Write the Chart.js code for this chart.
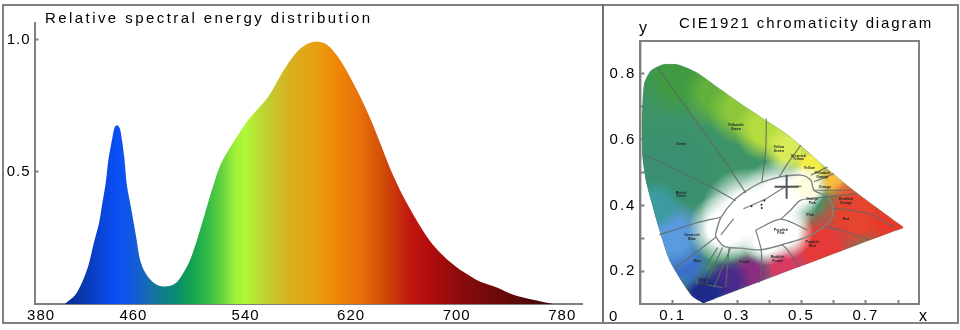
<!DOCTYPE html>
<html>
<head>
<meta charset="utf-8">
<style>
  html, body { margin: 0; background: #fff; }
  body { position: relative; width: 960px; height: 330px; overflow: hidden; font-family: "Liberation Sans", Arial, sans-serif; color: #000; }
  #frame { position: absolute; left: 2px; top: 4px; width: 953px; height: 316px; border: 2px solid #808080; }
  #divider { position: absolute; left: 602px; top: 4px; width: 2px; height: 318px; background: #707070; }
  canvas { position: absolute; top: 0; }
  #specChart { left: 0; }
  #cieChart { left: 604px; }
  .txt { position: absolute; white-space: nowrap; line-height: 1; }
</style>
<script src="https://cdn.jsdelivr.net/npm/chart.js@4"></script>
</head>
<body>
<div id="frame"></div>
<div id="divider"></div>
<canvas id="specChart" width="603" height="330"></canvas>
<canvas id="cieChart" width="356" height="330"></canvas>
<div class="txt" style="left:45px;top:10px;font-size:15px;letter-spacing:2.43px">Relative spectral energy distribution</div>
<div class="txt" style="left:679px;top:15px;font-size:15px;letter-spacing:1.9px">CIE1921 chromaticity diagram</div>
<div class="txt" style="left:639px;top:20px;font-size:16px">y</div>
<div class="txt" style="left:919px;top:308px;font-size:16px">x</div>
<div class="txt" style="left:609px;top:308px;font-size:15px">0</div>
<script>
// spectrum
const wavelengths = [403, 411, 416, 421, 425, 429, 431, 434, 436, 439, 441, 443, 445, 448, 450, 453, 457, 460, 464, 469, 474, 481, 487, 492, 498, 504, 510, 515, 521, 531, 542, 557, 569, 579, 587, 594, 602, 610, 617, 627, 635, 642, 650, 657, 665, 674, 682, 693, 705, 718, 731, 743, 758, 773];
const energy = [0, .035, .081, .149, .232, .308, .369, .459, .546, .629, .672, .677, .66, .558, .451, .369, .256, .168, .118, .086, .07, .067, .079, .111, .168, .256, .357, .44, .527, .614, .697, .784, .886, .955, .985, .994, .981, .936, .879, .784, .697, .61, .508, .432, .357, .281, .224, .168, .122, .084, .062, .035, .016, 0];
const specXTicks = [385, 455, 540, 620, 700, 780];
const specXLabels = ["380", "460", "540", "620", "700", "780"];
const specYTicks = [0.5, 1.0];

const specStopNm = [404, 419, 434, 443, 453, 464, 475, 487, 498, 510, 521, 532, 540, 555, 574, 593, 608, 627, 646, 665, 680, 703, 733, 775];
const specStopColor = ["#0a2a8c", "#0a3ab4", "#0a48e0", "#0a50f8", "#1058e0", "#1668b8", "#107a90", "#0a8a70", "#12a050", "#30b848", "#60d040", "#a0f038", "#b0f838", "#c0d030", "#d8b020", "#e8a010", "#f08808", "#e87008", "#d04808", "#c01810", "#b00c0c", "#8a0c0c", "#6a0a0a", "#3a0606"];

// chromaticity diagram
const locusX = [.195, .162, .131, .09, .059, .033, .017, .007, .005, .012, .033, .069, .116, .173, .245, .319, .39, .452, .496, .579, .661, .79, .816, .79, .5, .225, .195];
const locusY = [.103, .123, .165, .234, .325, .416, .477, .547, .668, .77, .81, .828, .828, .805, .755, .704, .658, .618, .583, .512, .446, .352, .333, .323, .216, .114, .103];
const ellipseX = [.234, .249, .291, .332, .374, .436, .498, .529, .539, .581, .596, .596, .57, .519, .456, .374, .312, .26, .234, .234];
const ellipseY = [.315, .361, .416, .446, .469, .487, .492, .477, .446, .426, .396, .366, .335, .305, .285, .265, .27, .275, .305, .315];
const spokes = [
  [[.053, .82], [.156, .679], [.26, .537], [.327, .438]],
  [[.006, .558], [.105, .512], [.218, .457], [.296, .414]],
  [[.058, .31], [.167, .345], [.249, .364]],
  [[.105, .209], [.177, .26], [.234, .303]],
  [[.391, .664], [.389, .568], [.377, .469]],
  [[.498, .583], [.457, .527], [.431, .487]],
  [[.581, .517], [.529, .492]],
  [[.601, .497], [.539, .472]],
  [[.658, .446], [.539, .446]],
  [[.674, .436], [.581, .426]],
  [[.788, .335], [.705, .376], [.601, .391]],
  [[.71, .295], [.622, .325], [.57, .335]],
  [[.493, .214], [.456, .265], [.441, .28]],
  [[.358, .325], [.436, .358], [.519, .325]],
  [[.436, .358], [.467, .386], [.498, .416], [.581, .426]],
  [[.358, .325], [.375, .265], [.375, .2], [.369, .165]],
  [[.172, .165], [.24, .272]],
  [[.203, .16], [.255, .272]],
  [[.228, .15], [.28, .27]],
  [[.265, .15], [.275, .27]],
  [[.172, .165], [.255, .15]],
  [[.25, .31], [.29, .36]],
  [[.32, .39], [.39, .42], [.45, .455], [.5, .458]],
];
const blobX = [.12, .09, .24, .32, .39, .46, .53, .6, .65, .67, .78, .56, .45, .34, .27, .2, .14, .1, .05, .26, .33, .43, .5, .45, .39, .52];
const blobY = [.8, .5, .74, .69, .63, .57, .52, .475, .43, .37, .34, .27, .21, .19, .17, .13, .22, .31, .4, .33, .375, .42, .45, .32, .29, .46];
const blobR = [45, 60, 36, 36, 32, 26, 20, 18, 15, 40, 30, 40, 28, 24, 24, 26, 26, 36, 26, 36, 46, 40, 24, 28, 24, 20];
const blobColor = ["#3f9a42", "#3a8f70", "#62b03c", "#8cc83a", "#b5dc3e", "#d8ec58", "#f2ee48", "#f4c040", "#f08a3a", "#e5452f", "#e73a2a", "#e63a38", "#d83a64", "#8a2c80", "#4a2a8a", "#1e2a8a", "#3a70c8", "#5a9ade", "#3a9ba0", "#ffffff", "#ffffff", "#ffffff", "#ffffff", "#ffffff", "#ffffff", "#fffde0"];
const markX = [.454];
const markY = [.457];
const dotX = [.345, .385, .377, .376];
const dotY = [.397, .415, .392, .402];
const cieXTicks = [.1, .2, .3, .4, .5, .6, .7, .8];
const cieYTicks = [.2, .3, .4, .5, .6, .7, .8];
const regionNames = ["Yellowish Green", "Green", "Bluish Green", "Greenish Blue", "Blue", "Yellow Green", "Greenish Yellow", "Yellow", "Yellowish Orange", "Orange", "Reddish Orange", "Red", "Purplish Red", "Reddish Purple", "Purple", "Bluish Purple", "Orange Pink", "Pink", "Purplish Pink"];
const regionX = [.296, .126, .126, .16, .177, .43, .49, .524, .565, .573, .638, .638, .534, .426, .324, .197, .534, .527, .436];
const regionY = [.638, .587, .433, .303, .232, .571, .545, .515, .493, .457, .413, .357, .283, .236, .228, .166, .413, .37, .32];

const GRAY = "#808080";
const LABEL_FONT = { family: "'Liberation Sans', Arial, sans-serif", size: 15 };

Chart.defaults.animation = false;
Chart.defaults.events = [];

const spacing = px => ({
  id: "spacing",
  beforeDraw(chart) { chart.ctx.letterSpacing = px; },
});

function specGradient(c) {
  const s = c.chart.scales.x;
  if (!s || !c.chart.chartArea) return "#888";
  const a = s.getPixelForValue(specStopNm[0]);
  const b = s.getPixelForValue(specStopNm[specStopNm.length - 1]);
  const g = c.chart.ctx.createLinearGradient(a, 0, b, 0);
  specStopNm.forEach((nm, i) => g.addColorStop((nm - specStopNm[0]) / (specStopNm[specStopNm.length - 1] - specStopNm[0]), specStopColor[i]));
  return g;
}

new Chart(document.getElementById("specChart"), {
  type: "scatter",
  data: { datasets: [{
    data: wavelengths.map((x, i) => ({ x, y: energy[i] })),
    showLine: true,
    tension: 0.3,
    fill: "origin",
    backgroundColor: specGradient,
    borderWidth: 0,
    pointRadius: 0,
  }]},
  options: {
    responsive: false,
    layout: { padding: { top: 23, right: 21 }, autoPadding: false },
    plugins: { legend: { display: false }, tooltip: { enabled: false } },
    scales: {
      x: {
        type: "linear", min: 380, max: 795,
        afterBuildTicks: s => { s.ticks = specXTicks.map(value => ({ value })); },
        afterFit: s => { s.height = 26; },
        ticks: { autoSkip: false, maxRotation: 0, color: "#000", font: LABEL_FONT, padding: 3, callback: (v, i) => specXLabels[i] },
        grid: { drawOnChartArea: false, drawTicks: false },
        border: { color: GRAY, width: 2 },
      },
      y: {
        min: 0, max: 1.064,
        afterBuildTicks: s => { s.ticks = specYTicks.map(value => ({ value })); },
        afterFit: s => { s.width = 34.5; },
        ticks: { color: "#000", font: LABEL_FONT, padding: 8, callback: v => v.toFixed(1) },
        grid: { drawOnChartArea: false, tickLength: -4, tickColor: GRAY, tickWidth: 2 },
        border: { color: GRAY, width: 2 },
      },
    },
  },
  plugins: [spacing("1px")],
});

// colour wash inside the horseshoe: soft blobs, clipped to the locus outline
function blobGradient(c) {
  if (!c.parsed || !c.chart.chartArea) return "#888";
  const { x, y } = c.chart.scales;
  const px = x.getPixelForValue(c.parsed.x), py = y.getPixelForValue(c.parsed.y);
  const r = blobR[c.dataIndex], col = blobColor[c.dataIndex];
  const g = c.chart.ctx.createRadialGradient(px, py, 0, px, py, r);
  g.addColorStop(0, col);
  g.addColorStop(0.45, col);
  g.addColorStop(1, col + "00");
  return g;
}

const LOCUS = 0, BLOBS = 1;
const locusClip = {
  id: "locusClip",
  beforeDatasetDraw(chart, args) {
    if (args.index !== BLOBS) return;
    const ctx = chart.ctx;
    ctx.save();
    ctx.beginPath();
    chart.getDatasetMeta(LOCUS).dataset.path(ctx);
    ctx.closePath();
    ctx.clip();
  },
  afterDatasetDraw(chart, args) {
    if (args.index === BLOBS) chart.ctx.restore();
  },
};

const plotBox = {
  id: "plotBox",
  afterDraw(chart) {
    const { ctx, chartArea: a } = chart;
    ctx.save();
    ctx.strokeStyle = GRAY;
    ctx.lineWidth = 2;
    ctx.strokeRect(a.left, a.top, a.right - a.left, a.bottom - a.top);
    ctx.restore();
  },
};

const regionText = {
  id: "regionText",
  afterDatasetsDraw(chart) {
    const { ctx, scales: { x, y } } = chart;
    ctx.save();
    ctx.letterSpacing = "0px";
    ctx.fillStyle = "#222";
    ctx.font = "bold 3.5px 'Liberation Sans', Arial, sans-serif";
    ctx.textAlign = "center";
    ctx.textBaseline = "middle";
    regionNames.forEach((name, i) => {
      const px = x.getPixelForValue(regionX[i]), py = y.getPixelForValue(regionY[i]);
      name.split(" ").forEach((w, j, all) => ctx.fillText(w, px, py + (j - (all.length - 1) / 2) * 3.6));
    });
    ctx.restore();
  },
};

const cieSets = [
  {
    data: locusX.map((x, i) => ({ x, y: locusY[i] })),
    showLine: true, tension: 0.2, fill: "shape", order: 10,
    backgroundColor: "#3e9468", borderColor: "rgba(60,90,80,0.2)", borderWidth: 1, pointRadius: 0,
  },
  {
    type: "bubble", order: 9,
    data: blobX.map((x, i) => ({ x, y: blobY[i], r: blobR[i] })),
    backgroundColor: blobGradient, borderWidth: 0,
  },
  {
    data: ellipseX.map((x, i) => ({ x, y: ellipseY[i] })),
    showLine: true, tension: 0.3, order: 5,
    borderColor: "#7d8580", borderWidth: 1.4, pointRadius: 0,
  },
  ...spokes.map(pts => ({
    data: pts.map(p => ({ x: p[0], y: p[1] })),
    showLine: true, tension: 0.25, order: 4,
    borderColor: "rgba(95,105,100,0.85)", borderWidth: 1.2, pointRadius: 0,
  })),
  {
    data: markX.map((x, i) => ({ x, y: markY[i] })), order: 1,
    pointStyle: "cross", pointRadius: 12, borderColor: "#555", pointBorderWidth: 2, pointBackgroundColor: "#555",
  },
  {
    data: dotX.map((x, i) => ({ x, y: dotY[i] })), order: 1,
    pointRadius: 1, borderWidth: 0, pointBackgroundColor: "#222",
  },
];

new Chart(document.getElementById("cieChart"), {
  type: "scatter",
  data: { datasets: cieSets },
  options: {
    responsive: false,
    layout: { padding: { top: 41, right: 41 }, autoPadding: false },
    plugins: { legend: { display: false }, tooltip: { enabled: false } },
    scales: {
      x: {
        type: "linear", min: 0, max: .865,
        afterBuildTicks: s => { s.ticks = cieXTicks.map(value => ({ value })); },
        afterFit: s => { s.height = 26; },
        ticks: { autoSkip: false, maxRotation: 0, color: "#000", font: LABEL_FONT, padding: 7,
          callback: (v, i) => (i % 2 === 0 ? v.toFixed(1) : "") },
        grid: { drawOnChartArea: false, tickLength: -4, tickColor: GRAY, tickWidth: 2 },
        border: { color: GRAY, width: 2 },
      },
      y: {
        min: .1, max: .9,
        afterBuildTicks: s => { s.ticks = cieYTicks.map(value => ({ value })); },
        afterFit: s => { s.width = 36.4; },
        ticks: { autoSkip: false, color: "#000", font: LABEL_FONT, padding: 8,
          callback: (v, i) => (i % 2 === 0 ? v.toFixed(1) : "") },
        grid: { drawOnChartArea: false, tickLength: -4, tickColor: GRAY, tickWidth: 2 },
        border: { color: GRAY, width: 2 },
      },
    },
  },
  plugins: [spacing("2px"), locusClip, regionText, plotBox],
});
</script>
</body>
</html>
